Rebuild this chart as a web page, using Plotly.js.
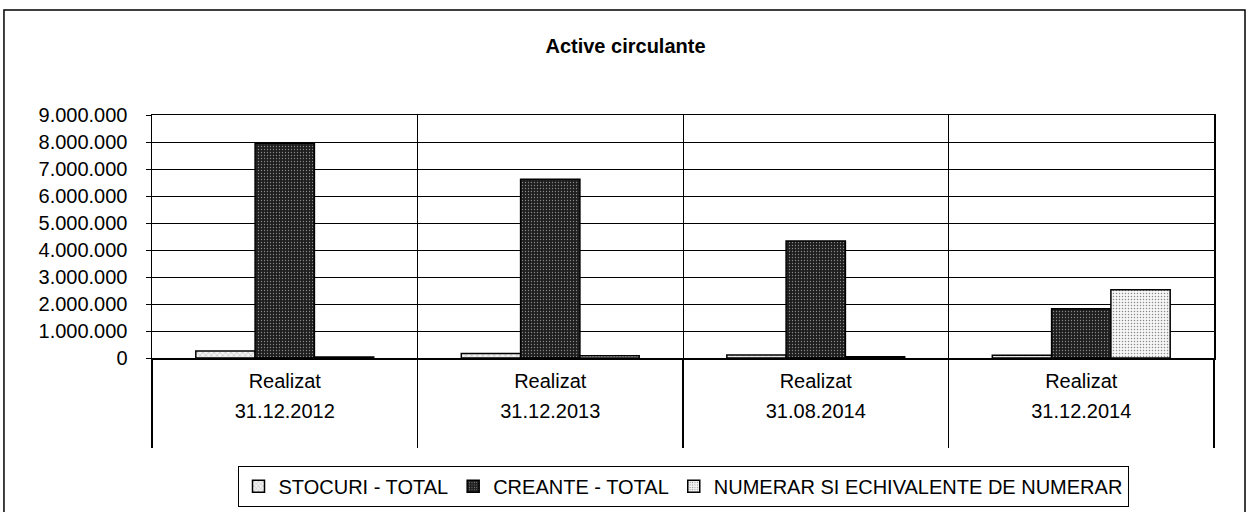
<!DOCTYPE html>
<html>
<head>
<meta charset="utf-8">
<script src="https://cdn.plot.ly/plotly-3.0.1.min.js"></script>
<style>
  html, body { margin: 0; padding: 0; background: #fff; }
  #chart { width: 1251px; height: 512px; }
</style>
</head>
<body>
<div id="chart"></div>
<script>
const perioade = ['31.12.2012', '31.12.2013', '31.08.2014', '31.12.2014'];
const tipuri = ['Realizat', 'Realizat', 'Realizat', 'Realizat'];

const stocuri = [260000, 170000, 110000, 100000];
const creante = [7950000, 6620000, 4330000, 1820000];
const numerar = [40000, 80000, 50000, 2530000];

const font = 'Arial, "Liberation Sans", sans-serif';
const idx = perioade.map((p, i) => i);

const mkBar = (name, y, fill, pattern) => ({
    type: 'bar',
    name,
    x: perioade,
    y,
    marker: {
        color: fill,
        line: { color: '#000', width: 1.5 },
        pattern
    },
    hoverinfo: 'y'
});

// empty helper traces so the label axes get drawn
const mkHelper = axis => ({
    type: 'scatter',
    mode: 'none',
    x: idx,
    y: idx.map(() => 0),
    xaxis: axis,
    yaxis: 'y',
    showlegend: false,
    hoverinfo: 'skip'
});

const data = [
    mkBar('STOCURI - TOTAL', stocuri, '#eeeeee',
        { shape: 'x', bgcolor: '#f2f2f2', fgcolor: '#8a8a8a', size: 4, solidity: 0.15, fillmode: 'replace' }),
    mkBar('CREANTE - TOTAL', creante, '#2b2b2b',
        { shape: '.', bgcolor: '#1e1e1e', fgcolor: '#8a8a8a', size: 3, solidity: 0.15, fillmode: 'replace' }),
    mkBar('NUMERAR SI ECHIVALENTE DE NUMERAR', numerar, '#f4f4f4',
        { shape: '.', bgcolor: '#f6f6f6', fgcolor: '#8a8a8a', size: 3, solidity: 0.2, fillmode: 'replace' }),
    mkHelper('x2'),
    mkHelper('x3')
];

// overlay axes only carry the two label rows under the category axis
const labelAxis = (text, standoff) => ({
    type: 'linear',
    overlaying: 'x',
    anchor: 'y',
    side: 'bottom',
    range: [-0.5, perioade.length - 0.5],
    tickmode: 'array',
    tickvals: idx,
    ticktext: text,
    ticks: '',
    showgrid: false,
    showline: false,
    zeroline: false,
    ticklabelstandoff: standoff,
    tickfont: { family: font, size: 20, color: '#000' },
    fixedrange: true
});

const layout = {
    width: 1251,
    height: 512,
    margin: { l: 152, r: 37, t: 115, b: 154, autoexpand: false },
    paper_bgcolor: '#fff',
    plot_bgcolor: '#fff',
    font: { family: font, size: 20, color: '#000' },
    title: {
        text: '<b>Active circulante</b>',
        font: { family: font, size: 20, color: '#000' },
        x: 0.5,
        xanchor: 'center',
        y: 0.91,
        yanchor: 'middle'
    },
    barmode: 'group',
    bargap: 0.33,
    bargroupgap: 0,
    showlegend: true,
    legend: {
        orientation: 'h',
        x: 0.5,
        xanchor: 'center',
        y: -0.443,
        yanchor: 'top',
        bordercolor: '#000',
        borderwidth: 1,
        font: { family: font, size: 20, color: '#000' },
        itemwidth: 30,
        tracegroupgap: 0
    },
    xaxis: {
        type: 'category',
        categoryarray: perioade,
        tickson: 'boundaries',
        showgrid: true,
        gridcolor: '#000',
        gridwidth: 1,
        showline: true,
        linecolor: '#000',
        linewidth: 1.5,
        mirror: true,
        ticks: 'outside',
        ticklen: 88,
        tickwidth: 1.5,
        tickcolor: '#000',
        showticklabels: false,
        fixedrange: true
    },
    xaxis2: labelAxis(tipuri, 9),
    xaxis3: labelAxis(perioade, 39),
    yaxis: {
        range: [0, 9000000],
        dtick: 1000000,
        tickformat: ',d',
        showgrid: true,
        gridcolor: '#000',
        gridwidth: 1,
        showline: true,
        linecolor: '#000',
        linewidth: 1.5,
        mirror: true,
        ticks: 'outside',
        ticklen: 5,
        tickcolor: '#000',
        ticklabelstandoff: 14,
        zeroline: false,
        tickfont: { family: font, size: 20, color: '#000' },
        fixedrange: true
    },
    separators: ',.',
    shapes: [{
        type: 'rect',
        xref: 'paper',
        yref: 'paper',
        x0: -0.1394,
        x1: 1.0292,
        y0: -0.7,
        y1: 1.432,
        line: { color: '#000', width: 1.5 },
        fillcolor: 'rgba(0,0,0,0)',
        layer: 'below'
    }]
};

Plotly.newPlot('chart', data, layout, { displayModeBar: false, staticPlot: true });
</script>
</body>
</html>
